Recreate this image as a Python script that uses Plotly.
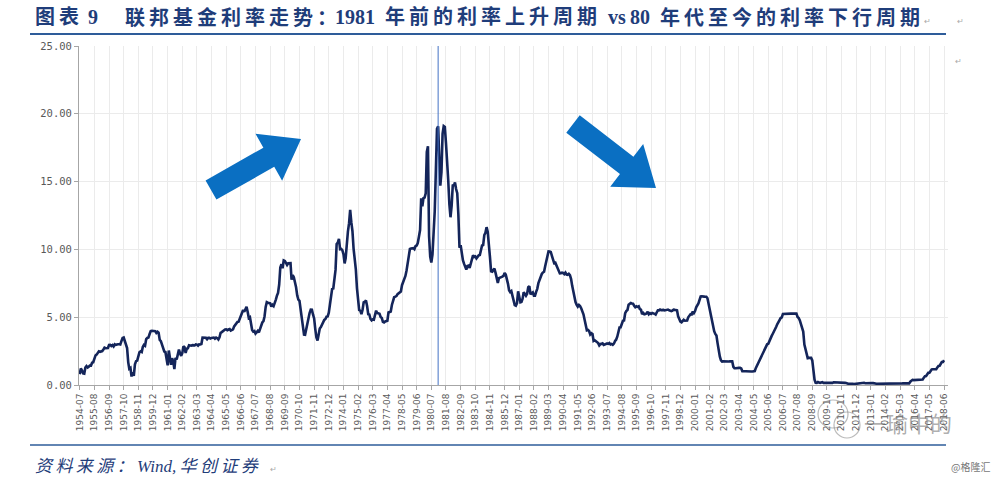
import plotly.graph_objects as go
import pandas as pd
import math

# Monthly federal funds rate (%), 1954-07 .. 2018-06
fed_1950s = [0.80, 1.22, 1.07, 0.85, 0.83, 1.28,
             1.39, 1.29, 1.35, 1.43, 1.43, 1.64, 1.68, 1.96, 2.18, 2.24, 2.35, 2.48,
             2.45, 2.50, 2.50, 2.62, 2.75, 2.71, 2.75, 2.73, 2.95, 2.96, 2.88, 2.94,
             2.84, 3.00, 2.96, 3.00, 3.00, 3.00, 2.99, 3.24, 3.47, 3.50, 3.28, 2.98,
             2.72, 1.67, 1.20, 1.26, 0.63, 0.93, 0.68, 1.53, 1.76, 1.80, 2.27, 2.42,
             2.48, 2.43, 2.80, 2.96, 2.90, 3.39, 3.47, 3.50, 3.76, 3.98, 4.00, 3.99]
fed_1960s = [3.99, 3.97, 3.84, 3.92, 3.85, 3.32, 3.23, 2.98, 2.60, 2.47, 2.44, 1.98,
             1.45, 2.54, 2.02, 1.49, 1.98, 1.73, 1.17, 2.00, 1.88, 2.26, 2.61, 2.33,
             2.15, 2.37, 2.85, 2.78, 2.36, 2.68, 2.71, 2.93, 2.90, 2.90, 2.94, 2.93,
             2.92, 3.00, 2.98, 2.90, 3.00, 2.99, 3.02, 3.49, 3.48, 3.50, 3.48, 3.38,
             3.48, 3.48, 3.43, 3.47, 3.50, 3.50, 3.42, 3.50, 3.45, 3.36, 3.52, 3.85,
             3.90, 3.98, 4.04, 4.09, 4.10, 4.04, 4.09, 4.12, 4.01, 4.08, 4.10, 4.32,
             4.42, 4.60, 4.65, 4.67, 4.90, 5.17, 5.30, 5.53, 5.40, 5.53, 5.76, 5.40,
             4.94, 5.00, 4.53, 4.05, 3.94, 3.98, 3.79, 3.90, 3.99, 3.88, 4.13, 4.51,
             4.61, 4.71, 5.05, 5.76, 6.11, 6.07, 6.02, 6.03, 5.78, 5.91, 5.82, 6.02,
             6.30, 6.61, 6.79, 7.41, 8.67, 8.90, 8.61, 9.19, 9.15, 9.00, 8.85, 8.97]
fed_1970s = [8.98, 8.98, 7.76, 8.10, 7.95, 7.61, 7.21, 6.61, 6.29, 6.20, 5.60, 4.90,
             4.14, 3.72, 3.71, 4.15, 4.63, 4.91, 5.31, 5.56, 5.55, 5.20, 4.91, 4.14,
             3.50, 3.29, 3.83, 4.17, 4.27, 4.46, 4.55, 4.80, 4.87, 5.04, 5.06, 5.33,
             5.94, 6.58, 7.09, 7.12, 7.84, 8.49, 10.40, 10.50, 10.78, 10.01, 10.03, 9.95,
             9.65, 8.97, 9.35, 10.51, 11.31, 11.93, 12.92, 12.01, 11.34, 10.06, 9.45, 8.53,
             7.13, 6.24, 5.54, 5.49, 5.22, 5.55, 6.10, 6.14, 6.24, 5.82, 5.22, 5.20,
             4.87, 4.77, 4.84, 4.82, 5.29, 5.48, 5.31, 5.29, 5.25, 5.02, 4.95, 4.65,
             4.61, 4.68, 4.69, 4.73, 5.35, 5.39, 5.42, 5.90, 6.14, 6.47, 6.51, 6.56,
             6.70, 6.78, 6.79, 6.89, 7.36, 7.60, 7.81, 8.04, 8.45, 8.96, 9.76, 10.03,
             10.07, 10.06, 10.09, 10.01, 10.24, 10.29, 10.47, 10.94, 11.43, 13.77, 13.18, 13.78]
fed_1980s = [13.82, 14.13, 17.19, 17.61, 10.98, 9.47, 9.03, 9.61, 10.87, 12.81, 15.85, 18.90,
             19.08, 15.93, 14.70, 15.72, 18.52, 19.10, 19.04, 17.82, 15.87, 15.08, 13.31, 12.37,
             13.22, 14.78, 14.68, 14.94, 14.45, 14.15, 12.59, 10.12, 10.31, 9.71, 9.20, 8.95,
             8.68, 8.51, 8.77, 8.80, 8.63, 8.98, 9.37, 9.56, 9.45, 9.48, 9.34, 9.47,
             9.56, 9.59, 9.91, 10.29, 10.32, 11.06, 11.23, 11.64, 11.30, 9.99, 9.43, 8.38,
             8.35, 8.50, 8.58, 8.27, 7.97, 7.53, 7.88, 7.90, 7.92, 7.99, 8.05, 8.27,
             8.14, 7.86, 7.48, 6.99, 6.85, 6.92, 6.56, 6.17, 5.89, 5.85, 6.04, 6.91,
             6.43, 6.10, 6.13, 6.37, 6.85, 6.73, 6.58, 6.73, 7.22, 7.29, 6.69, 6.77,
             6.83, 6.58, 6.58, 6.87, 7.09, 7.51, 7.75, 8.01, 8.19, 8.30, 8.35, 8.76,
             9.12, 9.36, 9.85, 9.84, 9.81, 9.53, 9.24, 8.99, 9.02, 8.84, 8.55, 8.45]
fed_1990s = [8.23, 8.24, 8.28, 8.26, 8.18, 8.29, 8.15, 8.13, 8.20, 8.11, 7.81, 7.31,
             6.91, 6.25, 6.12, 5.91, 5.78, 5.90, 5.82, 5.66, 5.45, 5.21, 4.81, 4.43,
             4.03, 4.06, 3.98, 3.73, 3.82, 3.76, 3.25, 3.30, 3.22, 3.10, 3.09, 2.92,
             3.02, 3.03, 3.07, 2.96, 3.00, 3.04, 3.06, 3.03, 3.09, 2.99, 3.02, 2.96,
             3.05, 3.25, 3.34, 3.56, 4.01, 4.25, 4.26, 4.47, 4.73, 4.76, 5.29, 5.45,
             5.53, 5.92, 5.98, 6.05, 6.01, 6.00, 5.85, 5.74, 5.80, 5.76, 5.80, 5.60,
             5.56, 5.22, 5.31, 5.22, 5.24, 5.27, 5.40, 5.22, 5.30, 5.24, 5.31, 5.29,
             5.25, 5.19, 5.39, 5.51, 5.50, 5.56, 5.52, 5.54, 5.54, 5.50, 5.52, 5.50,
             5.56, 5.51, 5.49, 5.45, 5.49, 5.56, 5.54, 5.55, 5.51, 5.07, 4.83, 4.68,
             4.63, 4.76, 4.81, 4.74, 4.74, 4.76, 4.99, 5.07, 5.22, 5.20, 5.42, 5.30]
fed_2000s = [5.45, 5.73, 5.85, 6.02, 6.27, 6.53, 6.54, 6.50, 6.52, 6.51, 6.51, 6.40,
             5.98, 5.49, 5.31, 4.80, 4.21, 3.97, 3.77, 3.65, 3.07, 2.49, 2.09, 1.82,
             1.73, 1.74, 1.73, 1.75, 1.75, 1.75, 1.73, 1.74, 1.75, 1.75, 1.34, 1.24,
             1.24, 1.26, 1.25, 1.26, 1.26, 1.22, 1.01, 1.03, 1.01, 1.01, 1.00, 0.98,
             1.00, 1.01, 1.00, 1.00, 1.00, 1.03, 1.26, 1.43, 1.61, 1.76, 1.93, 2.16,
             2.28, 2.50, 2.63, 2.79, 3.00, 3.04, 3.26, 3.50, 3.62, 3.78, 4.00, 4.16,
             4.29, 4.49, 4.59, 4.79, 4.94, 4.99, 5.24, 5.25, 5.25, 5.25, 5.25, 5.24,
             5.25, 5.26, 5.26, 5.25, 5.25, 5.25, 5.26, 5.02, 4.94, 4.76, 4.49, 4.24,
             3.94, 2.98, 2.61, 2.28, 1.98, 2.00, 2.01, 2.00, 1.81, 0.97, 0.39, 0.16,
             0.15, 0.22, 0.18, 0.15, 0.18, 0.21, 0.16, 0.16, 0.15, 0.12, 0.12, 0.12]
fed_2010s = [0.11, 0.13, 0.16, 0.20, 0.20, 0.18, 0.18, 0.19, 0.19, 0.19, 0.19, 0.18,
             0.17, 0.16, 0.14, 0.10, 0.09, 0.09, 0.07, 0.10, 0.08, 0.07, 0.08, 0.07,
             0.08, 0.10, 0.13, 0.14, 0.16, 0.16, 0.16, 0.13, 0.14, 0.16, 0.16, 0.16,
             0.14, 0.15, 0.14, 0.15, 0.11, 0.09, 0.09, 0.08, 0.08, 0.09, 0.08, 0.09,
             0.07, 0.07, 0.08, 0.09, 0.09, 0.10, 0.09, 0.09, 0.09, 0.09, 0.09, 0.12,
             0.11, 0.11, 0.11, 0.12, 0.12, 0.13, 0.13, 0.14, 0.14, 0.12, 0.12, 0.24,
             0.34, 0.38, 0.36, 0.37, 0.37, 0.38, 0.39, 0.40, 0.40, 0.40, 0.41, 0.54,
             0.65, 0.66, 0.79, 0.90, 0.91, 1.04, 1.15, 1.16, 1.15, 1.15, 1.16, 1.30,
             1.41, 1.42, 1.51, 1.69, 1.70, 1.82]

start_month = "1954-07-01"
tick_step = 13           # one label every 13 months
marker_month = "1981-01-01"
y_ticks = [0, 5, 10, 15, 20, 25]

title_parts = [("图表", 33), ("9", 86), ("联邦基金利率走势：", 123), ("1981", 333),
               ("年前的利率上升周期", 383), ("vs", 606), ("80", 628),
               ("年代至今的利率下行周期", 658)]
source_text = "资料来源：Wind,华创证券"

rates = fed_1950s + fed_1960s + fed_1970s + fed_1980s + fed_1990s + fed_2000s + fed_2010s
dates = pd.date_range(start_month, periods=len(rates), freq="MS")
tick_dates = list(dates[::tick_step])
tick_text = [d.strftime("%Y-%m") for d in tick_dates]

# plot area in pixels
L, R, T, B = 79, 948, 46, 385
W, H = 1000, 481


def px(x):
    return (x - L) / (R - L)


def py(y):
    return (B - y) / (B - T)


def spaced(s, sp="\u2009"):
    # widen CJK runs slightly (the original uses loose character spacing)
    out = ""
    for i, ch in enumerate(s):
        out += ch
        if i < len(s) - 1 and (ord(ch) > 0x2E80 or ord(s[i + 1]) > 0x2E80):
            out += sp
    return out


def arrow_path(tail, tip, w=11, hw=27, hl=37):
    dx, dy = tip[0] - tail[0], tip[1] - tail[1]
    n = math.hypot(dx, dy)
    ux, uy = dx / n, dy / n
    nx, ny = -uy, ux
    bx, by = tip[0] - ux * hl, tip[1] - uy * hl
    pts = [(tail[0] + nx * w, tail[1] + ny * w), (bx + nx * w, by + ny * w),
           (bx + nx * hw, by + ny * hw), tip, (bx - nx * hw, by - ny * hw),
           (bx - nx * w, by - ny * w), (tail[0] - nx * w, tail[1] - ny * w)]
    return "M " + " L ".join(f"{px(x):.5f},{py(y):.5f}" for x, y in pts) + " Z"


fig = go.Figure()
fig.add_trace(go.Scatter(x=dates, y=rates, mode="lines",
                         line=dict(color="#14255A", width=2.6), hoverinfo="x+y",
                         showlegend=False))

shapes = [
    dict(type="line", xref="x", yref="y", x0=marker_month, x1=marker_month, y0=0, y1=25,
         line=dict(color="#4472C4", width=1)),
    dict(type="line", xref="paper", yref="paper", x0=px(30), x1=px(946), y0=py(34), y1=py(34),
         line=dict(color="#2E5C9A", width=2)),
    dict(type="line", xref="paper", yref="paper", x0=px(30), x1=px(946), y0=py(445), y1=py(445),
         line=dict(color="#2E5C9A", width=1.6)),
    dict(type="path", xref="paper", yref="paper", path=arrow_path((211, 190), (301, 139)),
         fillcolor="#0A6FC2", line=dict(width=0)),
    dict(type="path", xref="paper", yref="paper", path=arrow_path((573, 124), (656, 188)),
         fillcolor="#0A6FC2", line=dict(width=0)),
    # faint WeChat-style watermark icon
    dict(type="circle", xref="paper", yref="paper", x0=px(818), x1=px(848), y0=py(400), y1=py(428),
         line=dict(color="rgba(140,140,140,0.6)", width=1.2)),
    dict(type="circle", xref="paper", yref="paper", x0=px(834), x1=px(860), y0=py(412), y1=py(438),
         line=dict(color="rgba(140,140,140,0.6)", width=1.2)),
]

title_font = dict(family="Liberation Serif, Noto Sans CJK SC", size=20, color="#1F3D7A")
annotations = [
    dict(text=f"<b>{spaced(t)}</b>", xref="paper", yref="paper", x=px(x0), y=py(17),
         xanchor="left", yanchor="middle", showarrow=False, font=title_font)
    for t, x0 in title_parts
]
mark = dict(size=8, color="#AAAAAA")
annotations += [
    dict(text="↵", xref="paper", yref="paper", x=px(922), y=py(20), xanchor="left",
         yanchor="middle", showarrow=False, font=mark),
    dict(text="↵", xref="paper", yref="paper", x=px(955), y=py(20), xanchor="left",
         yanchor="middle", showarrow=False, font=mark),
    dict(text="↵", xref="paper", yref="paper", x=px(953), y=py(60), xanchor="left",
         yanchor="middle", showarrow=False, font=mark),
    dict(text=f"<i>{spaced(source_text)}</i>", xref="paper", yref="paper", x=px(33), y=py(466),
         xanchor="left", yanchor="middle", showarrow=False,
         font=dict(family="Liberation Serif, Noto Sans CJK SC", size=17, color="#1F3D7A")),
    dict(text="↵", xref="paper", yref="paper", x=px(268), y=py(468), xanchor="left",
         yanchor="middle", showarrow=False, font=mark),
    dict(text="一瑜中的", xref="paper", yref="paper", x=px(862), y=py(422), xanchor="left",
         yanchor="middle", showarrow=False,
         font=dict(family="Noto Sans CJK SC", size=22, color="rgba(130,130,130,0.65)")),
    dict(text="@格隆汇", xref="paper", yref="paper", x=px(992), y=py(466), xanchor="right",
         yanchor="middle", showarrow=False,
         font=dict(family="Noto Sans CJK SC", size=10, color="#777777")),
]

fig.update_layout(
    width=W, height=H,
    margin=dict(l=L, r=W - R, t=T, b=H - B),
    paper_bgcolor="white", plot_bgcolor="white",
    shapes=shapes, annotations=annotations,
    xaxis=dict(range=[pd.Timestamp("1954-06-12"), pd.Timestamp("2018-09-15")],
               tickvals=tick_dates, ticktext=tick_text, tickangle=-90,
               tickfont=dict(family="DejaVu Sans, Arial", size=9, color="#595959"),
               showgrid=True, gridcolor="#EBEBEB", gridwidth=1,
               showline=True, linecolor="#A6A6A6", linewidth=1,
               ticks="outside", ticklen=4, tickcolor="#A6A6A6", zeroline=False),
    yaxis=dict(range=[0, 25], tickvals=y_ticks, tickformat=".2f",
               tickfont=dict(family="DejaVu Sans Mono, monospace", size=10.5, color="#595959"),
               showgrid=True, gridcolor="#EBEBEB", gridwidth=1,
               showline=True, linecolor="#A6A6A6", linewidth=1,
               ticks="outside", ticklen=4, tickcolor="#A6A6A6", zeroline=False),
)

fig.write_html("out.html", config={"displayModeBar": False},
               post_script="document.body.style.margin='0';")
